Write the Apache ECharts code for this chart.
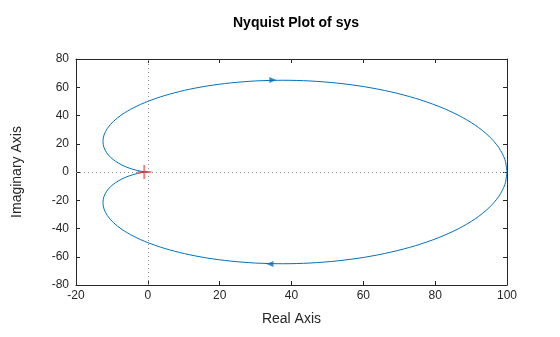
<!DOCTYPE html>
<html>
<head>
<meta charset="utf-8">
<script src="https://cdn.jsdelivr.net/npm/echarts@6/dist/echarts.min.js"></script>
<style>html,body{margin:0;padding:0;background:#fff;}#c{width:560px;height:337px;}</style>
</head>
<body>
<div id="c"></div>
<script>
// Values
var xTicks = [-20, 0, 20, 40, 60, 80, 100];
var yTicks = [-80, -60, -40, -20, 0, 20, 40, 60, 80];

// lower branch (positive frequencies), from (100,0) toward the origin
var reLower = [100, 99.43, 97.73, 94.95, 91.14, 86.39, 80.80, 74.51, 67.64, 60.36, 52.80, 45.13, 37.5, 30.06, 22.95, 16.29, 10.19, 4.74, 0, -3.98, -7.17, -9.59, -11.25, -12.20, -12.5, -12.23, -11.48, -10.36, -8.96, -7.41, -5.80, -4.25, -2.83, -1.65, -0.75, 0];
var imLower = [0, -8.70, -17.23, -25.44, -33.17, -40.28, -46.65, -52.17, -56.76, -60.36, -62.92, -64.45, -64.95, -64.47, -63.05, -60.80, -57.79, -54.15, -50, -45.47, -40.69, -35.80, -30.91, -26.16, -21.65, -17.47, -13.68, -10.36, -7.52, -5.19, -3.35, -1.98, -1.03, -0.44, -0.13, 0];
// upper branch (negative frequencies)
var reUpper = [100, 99.43, 97.73, 94.95, 91.14, 86.39, 80.80, 74.51, 67.64, 60.36, 52.80, 45.13, 37.5, 30.06, 22.95, 16.29, 10.19, 4.74, 0, -3.98, -7.17, -9.59, -11.25, -12.20, -12.5, -12.23, -11.48, -10.36, -8.96, -7.41, -5.80, -4.25, -2.83, -1.65, -0.75, 0];
var imUpper = [0, 8.70, 17.23, 25.44, 33.17, 40.28, 46.65, 52.17, 56.76, 60.36, 62.92, 64.45, 64.95, 64.47, 63.05, 60.80, 57.79, 54.15, 50, 45.47, 40.69, 35.80, 30.91, 26.16, 21.65, 17.47, 13.68, 10.36, 7.52, 5.19, 3.35, 1.98, 1.03, 0.44, 0.13, 0];

// direction arrows
var arrowRe = [34.8, 34.0];
var arrowIm = [65.2, -65.2];
var arrowDir = [-90, 90];

// critical point
var critRe = [-1];
var critIm = [0];

function zip(a, b) { var r = []; for (var i = 0; i < a.length; i++) r.push([a[i], b[i]]); return r; }

var FONT = 'Liberation Sans, Arial, Helvetica, sans-serif';
var AX = '#262626';
var chart = echarts.init(document.getElementById('c'));

function xAxisBase(pos, showLabel) {
  return {
    type: 'value', position: pos, min: xTicks[0], max: xTicks[xTicks.length - 1], interval: 20,
    name: showLabel ? 'Real Axis' : '', nameLocation: 'middle', nameGap: 27,
    nameTextStyle: { fontFamily: FONT, fontSize: 14, color: AX },
    axisLine: { show: true, onZero: false, lineStyle: { color: AX, width: 1 } },
    axisTick: { show: true, inside: true, length: 4, lineStyle: { color: AX } },
    axisLabel: { show: showLabel, fontFamily: FONT, fontSize: 12, color: AX, margin: 5 },
    splitLine: { show: false }
  };
}
function yAxisBase(pos, showLabel) {
  return {
    type: 'value', position: pos, min: yTicks[0], max: yTicks[yTicks.length - 1], interval: 20,
    name: showLabel ? 'Imaginary Axis' : '', nameLocation: 'middle', nameGap: 52,
    nameTextStyle: { fontFamily: FONT, fontSize: 14, color: AX },
    axisLine: { show: true, onZero: false, lineStyle: { color: AX, width: 1 } },
    axisTick: { show: true, inside: true, length: 4, lineStyle: { color: AX } },
    axisLabel: { show: showLabel, fontFamily: FONT, fontSize: 12, color: AX, margin: 7 },
    splitLine: { show: false }
  };
}

var arrows = [];
for (var i = 0; i < arrowRe.length; i++) {
  arrows.push({ value: [arrowRe[i], arrowIm[i]], symbolRotate: arrowDir[i] });
}

chart.setOption({
  animation: false,
  backgroundColor: '#ffffff',
  title: {
    text: 'Nyquist Plot of sys', left: 291, top: 11, textAlign: 'center',
    textStyle: { fontFamily: FONT, fontSize: 14, fontWeight: 'bold', color: '#000' }
  },
  grid: { left: 76, right: 53, top: 59, bottom: 52, containLabel: false },
  xAxis: [xAxisBase('bottom', true), xAxisBase('top', false)],
  yAxis: [yAxisBase('left', true), yAxisBase('right', false)],
  series: [
    {
      type: 'line', data: zip(reLower, imLower), showSymbol: false, smooth: 0.3,
      lineStyle: { color: '#0072BD', width: 1 }, z: 3,
      markLine: {
        silent: true, symbol: 'none', label: { show: false },
        lineStyle: { color: '#8c8c8c', type: [1, 3], width: 1 },
        data: [{ xAxis: 0 }, { yAxis: 0 }]
      }
    },
    {
      type: 'line', data: zip(reUpper, imUpper), showSymbol: false, smooth: 0.3,
      lineStyle: { color: '#0072BD', width: 1 }, z: 3
    },
    {
      type: 'scatter', data: arrows, symbol: 'triangle', symbolSize: [6, 7],
      itemStyle: { color: '#0072BD' }, z: 4
    },
    {
      type: 'scatter', data: zip(critRe, critIm),
      symbol: 'path://M-1,-7L1,-7L1,7L-1,7Z M-7,-1L7,-1L7,1L-7,1Z', symbolSize: 14,
      itemStyle: { color: 'rgba(255,40,40,0.75)' }, z: 5
    }
  ]
});
</script>
</body>
</html>
